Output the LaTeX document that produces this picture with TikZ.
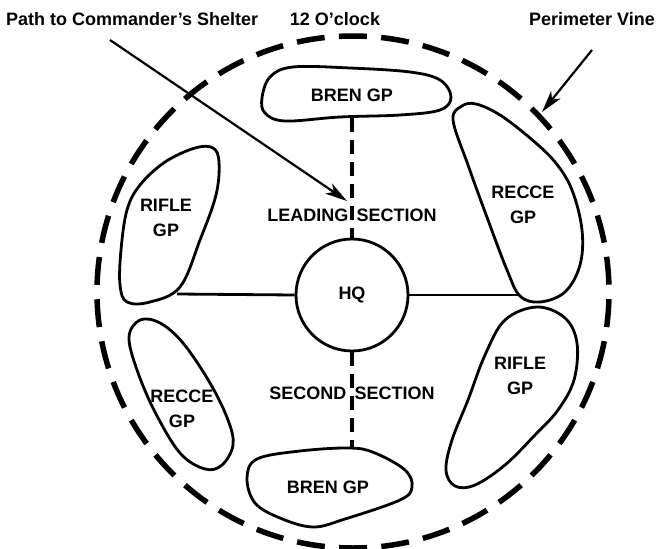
\documentclass[tikz,border=0pt]{standalone}
\usepackage{fontspec}
\setmainfont{Liberation Sans}
\usetikzlibrary{arrows.meta}

\begin{document}
\begin{tikzpicture}[x=1pt,y=-1pt]
	\tikzstyle{lbl}=[font=\fontsize{18}{25}\selectfont\bfseries,align=center,inner sep=1pt]
	\tikzstyle{gp}=[line width=2.8pt,line join=round]
	\tikzstyle{vine}=[line width=5.5pt,dash pattern=on 28pt off 14.33pt,dash phase=35pt]
	\tikzstyle{link}=[line width=3.5pt,dash pattern=on 14pt off 8pt]
	\tikzstyle{pointer}=[line width=2.2pt,-{Stealth[length=22pt,width=12pt,inset=6pt]}]

	\useasboundingbox (0,0) rectangle (662,549);

	\draw[vine] (353,292) circle[radius=256pt];

	\node[lbl,circle,draw,line width=2.8pt,minimum size=112pt] (hq) at (352,295) {HQ};

	% groups round the HQ
	\draw[gp] plot[smooth cycle,tension=0.6] coordinates {(262,98) (270,77) (293,67) (350,68) (410,72) (440,80) (451,97) (440,110) (400,115) (340,117) (285,121) (265,113)};
	\draw[gp] plot[smooth cycle,tension=0.6] coordinates {(453,120) (462,106) (476,104) (500,115) (530,138) (555,162) (572,190) (582,230) (580,265) (565,292) (540,302) (520,296) (507,270) (488,220) (468,165)};
	\draw[gp] plot[smooth cycle,tension=0.6] coordinates {(537,307) (565,318) (577,343) (574,380) (558,410) (535,435) (505,465) (475,485) (455,486) (446,470) (452,440) (468,400) (485,355) (505,320)};
	\draw[gp] plot[smooth cycle,tension=0.6] coordinates {(247,478) (257,459) (300,451) (350,448) (375,453) (405,470) (412,487) (400,500) (345,519) (313,527) (280,518) (255,503)};
	\draw[gp] plot[smooth cycle,tension=0.6] coordinates {(140,320) (160,323) (183,343) (210,383) (228,420) (233,445) (222,465) (205,469) (180,453) (155,412) (137,370) (129,337)};
	\draw[gp] plot[smooth cycle,tension=0.6] coordinates {(140,185) (165,162) (195,148) (213,148) (219,162) (216,195) (200,240) (180,287) (150,302) (127,302) (120,285) (121,250) (127,210)};

	\coordinate (riflel) at (177,294);
	\coordinate (recter) at (518,295);
	\coordinate (brent) at (352,118);
	\coordinate (brenb) at (352,449);

	\draw[gp] (hq.west) -- (riflel);
	\draw[gp] (hq.east) -- (recter);
	\draw[link] (brent) -- (hq.north);
	\draw[link] (hq.south) -- (brenb);

	\node[lbl] (brentop) at (352,95) {BREN GP};
	\node[lbl] (recce1) at (523,205) {RECCE\\GP};
	\node[lbl] (rifle1) at (166,218) {RIFLE\\GP};
	\node[lbl] (lead) at (352,215) {LEADING\hspace{0.45em}SECTION};
	\node[lbl] (second) at (352,393) {SECOND\hspace{0.45em}SECTION};
	\node[lbl] (recce2) at (182,409) {RECCE\\GP};
	\node[lbl] (rifle2) at (520,376) {RIFLE\\GP};
	\node[lbl] (brenbot) at (328,487) {BREN GP};

	\node[lbl,anchor=west] (pathlbl) at (5,19) {Path to Commander’s Shelter};
	\node[lbl] (clock) at (335,19) {12 O’clock};
	\node[lbl,anchor=east] (vinelbl) at (656,19) {Perimeter Vine};

	\coordinate (pathfrom) at (110,40);
	\coordinate (pathto) at (347,201);
	\coordinate (vinefrom) at (592,50);
	\coordinate (vineto) at (542,112);
	\draw[pointer] (pathfrom) -- (pathto);
	\draw[pointer] (vinefrom) -- (vineto);
\end{tikzpicture}
\end{document}
